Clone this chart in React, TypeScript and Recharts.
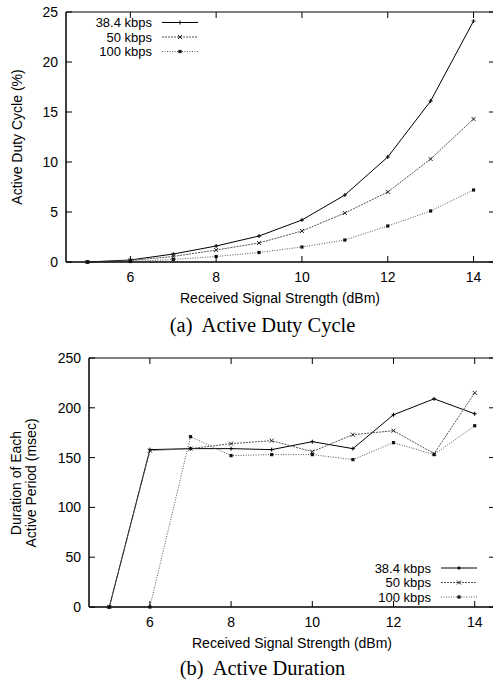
import React from "react"
import { LineChart, Line, XAxis, YAxis, ReferenceArea } from "recharts"

const SANS = "'Liberation Sans', Arial, sans-serif"
const SERIF = "'Liberation Serif', 'Times New Roman', serif"

// received signal strength (dBm)
const rss = [5, 6, 7, 8, 9, 10, 11, 12, 13, 14]
const xTicks = [6, 8, 10, 12, 14]

// (a) active duty cycle (%)
const duty384 = [0, 0.2, 0.8, 1.6, 2.6, 4.2, 6.7, 10.5, 16.1, 24.1]
const duty50 = [0, 0.15, 0.55, 1.2, 1.9, 3.1, 4.9, 7.0, 10.3, 14.3]
const duty100 = [0, 0.05, 0.25, 0.55, 0.95, 1.5, 2.2, 3.6, 5.1, 7.2]
const dutyTicks = [0, 5, 10, 15, 20, 25]

// (b) duration of each active period (msec)
const dur384 = [0, 158, 159, 159, 158, 166, 159, 193, 209, 194]
const dur50 = [0, 157, 159, 164, 167, 156, 173, 177, 154, 215]
const dur100 = [0, 0, 171, 152, 153, 153, 148, 165, 153, 182]
const durTicks = [0, 50, 100, 150, 200, 250]

const seriesNames = ["38.4 kbps", "50 kbps", "100 kbps"]

const build = (a: number[], b: number[], c: number[]) =>
  rss.map((x, i) => ({ x, s1: a[i], s2: b[i], s3: c[i] }))

const dutyData = build(duty384, duty50, duty100)
const durData = build(dur384, dur50, dur100)

const X_MIN = 4.5
const X_MAX = 14.5
const CHART_W = 500

type MarkerKind = "plus" | "cross" | "square"

function Marker({ cx, cy, kind }: { cx: number; cy: number; kind: MarkerKind }) {
  if (cx == null || cy == null) return null
  if (kind === "plus")
    return (
      <g stroke="#000" strokeWidth={1}>
        <line x1={cx - 2} y1={cy} x2={cx + 2} y2={cy} />
        <line x1={cx} y1={cy - 2} x2={cx} y2={cy + 2} />
      </g>
    )
  if (kind === "cross")
    return (
      <g stroke="#222" strokeWidth={1}>
        <line x1={cx - 2} y1={cy - 2} x2={cx + 2} y2={cy + 2} />
        <line x1={cx - 2} y1={cy + 2} x2={cx + 2} y2={cy - 2} />
      </g>
    )
  return <rect x={cx - 1.6} y={cy - 1.6} width={3.2} height={3.2} fill="#111" />
}

const styles = [
  { key: "s1", dash: undefined, kind: "plus" as MarkerKind, stroke: "#000" },
  { key: "s2", dash: "2 1", kind: "cross" as MarkerKind, stroke: "#555" },
  { key: "s3", dash: "1 1.5", kind: "square" as MarkerKind, stroke: "#555" },
]

interface PanelProps {
  top: number
  height: number
  plotTop: number
  left: number
  data: { x: number }[]
  yMax: number
  yTicks: number[]
}

function Panel({ top, height, plotTop, left, data, yMax, yTicks }: PanelProps) {
  const plotRight = CHART_W - 5

  const XTick = (p: any) => (
    <g>
      <line x1={p.x} y1={p.y} x2={p.x} y2={p.y - 6} stroke="#000" />
      <line x1={p.x} y1={plotTop} x2={p.x} y2={plotTop + 6} stroke="#000" />
      <text x={p.x} y={p.y + 15} textAnchor="middle" dominantBaseline="central"
        style={{ fontFamily: SANS, fontSize: 14, fill: "#000" }}>
        {p.payload.value}
      </text>
    </g>
  )

  const YTick = (p: any) => (
    <g>
      <line x1={p.x} y1={p.y} x2={p.x + 6} y2={p.y} stroke="#000" />
      <line x1={plotRight - 6} y1={p.y} x2={plotRight} y2={p.y} stroke="#000" />
      <text x={p.x - 8} y={p.y} textAnchor="end" dominantBaseline="central"
        style={{ fontFamily: SANS, fontSize: 14, fill: "#000" }}>
        {p.payload.value}
      </text>
    </g>
  )

  return (
    <div style={{ position: "absolute", top, left: 0 }}>
      <LineChart width={CHART_W} height={height} data={data}
        margin={{ top: plotTop, right: CHART_W - plotRight, bottom: 0, left: 0 }}>
        <XAxis type="number" dataKey="x" domain={[X_MIN, X_MAX]} ticks={xTicks}
          height={38} tickSize={0} tickMargin={0}
          tick={XTick} axisLine={{ stroke: "#000" }} allowDataOverflow />
        <YAxis type="number" domain={[0, yMax]} ticks={yTicks} width={left}
          tickSize={0} tickMargin={0} tick={YTick} axisLine={{ stroke: "#000" }} />
        <ReferenceArea x1={X_MIN} x2={X_MAX} y1={0} y2={yMax} fill="none"
          stroke="#000" strokeWidth={1} ifOverflow="visible" />
        {styles.map(s => (
          <Line key={s.key} type="linear" dataKey={s.key} stroke={s.stroke} strokeWidth={1}
            strokeDasharray={s.dash} isAnimationActive={false}
            dot={(d: any) => <Marker key={`${s.key}-${d.index}`} cx={d.cx} cy={d.cy} kind={s.kind} />}
            activeDot={false} />
        ))}
      </LineChart>
    </div>
  )
}

function LegendBox({ right, top }: { right: number; top: number }) {
  return (
    <svg style={{ position: "absolute", left: 0, top: 0, overflow: "visible" }} width={1} height={1}>
      {styles.map((s, i) => {
        const y = top + i * 14.5
        return (
          <g key={s.key}>
            <text x={right} y={y} textAnchor="end" dominantBaseline="central"
              style={{ fontFamily: SANS, fontSize: 13, fill: "#000" }}>{seriesNames[i]}</text>
            <line x1={right + 10} y1={y} x2={right + 46} y2={y} stroke={s.stroke} strokeDasharray={s.dash} />
            <Marker cx={right + 28} cy={y} kind={s.kind} />
          </g>
        )
      })}
    </svg>
  )
}

const textStyle: React.CSSProperties = { position: "absolute", whiteSpace: "pre", fontFamily: SANS, fontSize: 14, color: "#000" }

export default function App() {
  return (
    <div style={{ position: "absolute", left: 0, top: 0, width: 493, height: 681, overflow: "hidden", background: "#fff" }}>
      <Panel top={0} height={300} plotTop={12} left={66} data={dutyData} yMax={25} yTicks={dutyTicks} />
      <Panel top={330} height={315} plotTop={28} left={89} data={durData} yMax={250} yTicks={durTicks} />

      <LegendBox right={152} top={22.5} />
      <LegendBox right={431} top={568} />

      {/* axis titles */}
      <div style={{ ...textStyle, left: 280, top: 298, transform: "translate(-50%, -50%)" }}>
        Received Signal Strength (dBm)
      </div>
      <div style={{ ...textStyle, left: 292, top: 643, transform: "translate(-50%, -50%)" }}>
        Received Signal Strength (dBm)
      </div>
      <div style={{ ...textStyle, left: 17, top: 137, transform: "translate(-50%, -50%) rotate(-90deg)" }}>
        Active Duty Cycle (%)
      </div>
      <div style={{ ...textStyle, left: 24, top: 483, lineHeight: "15px", textAlign: "center",
        transform: "translate(-50%, -50%) rotate(-90deg)" }}>
        {"Duration of Each\nActive Period (msec)"}
      </div>

      {/* captions */}
      <div style={{ ...textStyle, fontFamily: SERIF, fontSize: 20.5, left: 262.5, top: 325, transform: "translate(-50%, -50%)" }}>
        {"(a)  Active Duty Cycle"}
      </div>
      <div style={{ ...textStyle, fontFamily: SERIF, fontSize: 20.5, left: 262.5, top: 668, transform: "translate(-50%, -50%)" }}>
        {"(b)  Active Duration"}
      </div>
    </div>
  )
}
